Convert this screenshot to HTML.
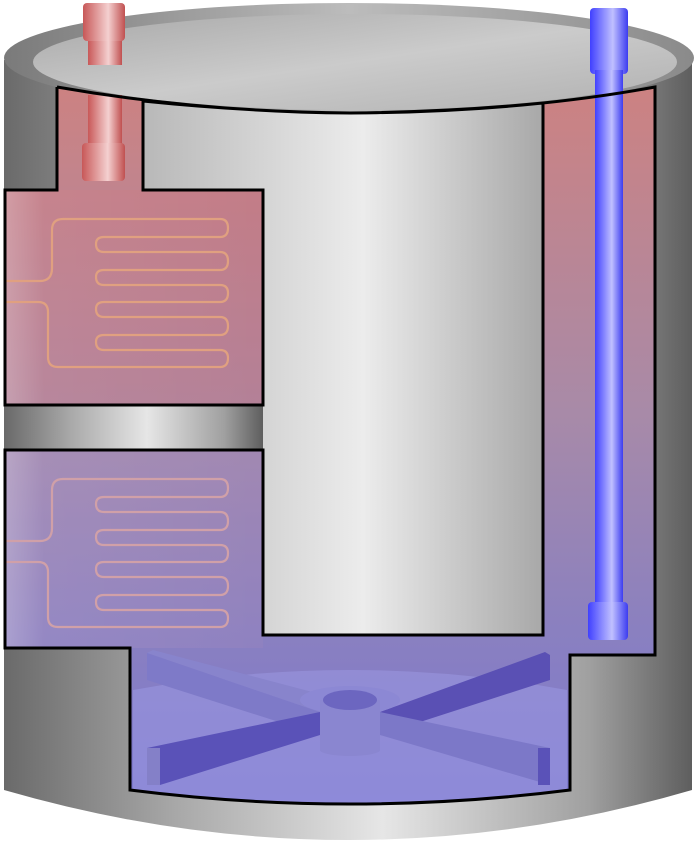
<!DOCTYPE html>
<html><head><meta charset="utf-8"><style>html,body{margin:0;padding:0;background:#fff}svg{display:block}</style></head>
<body>
<svg width="696" height="843" viewBox="0 0 696 843" xmlns="http://www.w3.org/2000/svg">
<defs>
<linearGradient id="side" x1="0" x2="1" y1="0" y2="0">
<stop offset="0" stop-color="#6a6a6a"/><stop offset="0.25" stop-color="#a8a8a8"/><stop offset="0.55" stop-color="#e6e6e6"/><stop offset="0.85" stop-color="#a0a0a0"/><stop offset="1" stop-color="#5e5e5e"/></linearGradient>
<linearGradient id="topg" x1="0" x2="1" y1="0" y2="0">
<stop offset="0" stop-color="#7a7a7a"/><stop offset="0.5" stop-color="#bcbcbc"/><stop offset="1" stop-color="#8a8a8a"/></linearGradient>
<linearGradient id="topin" x1="0" x2="1" y1="0" y2="1">
<stop offset="0" stop-color="#a8a8a8"/><stop offset="0.5" stop-color="#cbcbcb"/><stop offset="1" stop-color="#b0b0b0"/></linearGradient>
<linearGradient id="col" x1="0" x2="1" y1="0" y2="0">
<stop offset="0" stop-color="#b8b8b8"/><stop offset="0.55" stop-color="#ececec"/><stop offset="1" stop-color="#a8a8a8"/></linearGradient>
<linearGradient id="fluid" gradientUnits="userSpaceOnUse" x1="0" x2="0" y1="90" y2="810">
<stop offset="0" stop-color="#cc8282"/><stop offset="0.45" stop-color="#a88aa8"/><stop offset="0.75" stop-color="#8a80c0"/><stop offset="1" stop-color="#7c78d0"/></linearGradient>
<linearGradient id="heatL" x1="0" x2="1" y1="0" y2="0">
<stop offset="0" stop-color="#ffffff" stop-opacity="0.25"/><stop offset="0.15" stop-color="#ffffff" stop-opacity="0.05"/><stop offset="1" stop-color="#ffffff" stop-opacity="0"/></linearGradient>
<linearGradient id="red" x1="0" x2="1"><stop offset="0" stop-color="#c85858"/><stop offset="0.6" stop-color="#f4d0d0"/><stop offset="1" stop-color="#c05050"/></linearGradient>
<linearGradient id="blue" x1="0" x2="1"><stop offset="0" stop-color="#4040ff"/><stop offset="0.6" stop-color="#c0c0ff"/><stop offset="1" stop-color="#3c3cf0"/></linearGradient>
</defs>
<path d="M4 60 L4 790 Q350 890 692 790 L692 60 Z" fill="url(#side)"/>
<ellipse cx="349" cy="58" rx="345" ry="55" fill="url(#topg)"/>
<ellipse cx="355" cy="62" rx="322" ry="48" fill="url(#topin)"/>
<g>
<rect x="88" y="35" width="34" height="30" fill="url(#red)"/>
<rect x="83" y="3" width="42" height="38" rx="4" fill="url(#red)"/>
</g>
<path d="M57 87 Q200 112 350 113 Q520 112 655 87 L655 655 L570 655 L570 790 Q350 818 130 790 L130 648 L5 648 L5 190 L57 190 Z" fill="url(#fluid)"/>
<path d="M133 690 Q350 650 567 690 L567 790 Q350 815 133 790 Z" fill="#9a96e0" opacity="0.6"/>
<g>
<polygon points="147,653 153,650 335,698 320,712" fill="#8884cc"/>
<polygon points="147,653 320,712 320,735 147,680" fill="#7e7ac8"/>
<polygon points="545,652 550,655 550,680 380,735 380,712" fill="#5a50b4"/>
<polygon points="147,748 320,712 320,735 160,785 147,785" fill="#5a52b8"/>
<rect x="147" y="748" width="13" height="37" fill="#8480c8"/>
<polygon points="380,712 550,748 550,785 380,735" fill="#7c78c8"/>
<rect x="538" y="748" width="12" height="37" fill="#5a52b8"/>
<ellipse cx="350" cy="700" rx="50" ry="14" fill="#8c88d4"/>
<rect x="320" y="700" width="60" height="50" fill="#8a86d0"/>
<ellipse cx="350" cy="750" rx="30" ry="6" fill="#8a86d0"/>
<ellipse cx="350" cy="700" rx="27" ry="10" fill="#6c66c0"/>
</g>
<rect x="5" y="405" width="258" height="45" fill="url(#side)"/>
<path d="M143 101 Q250 112 350 113 Q450 112 543 103 L543 635 L263 635 L263 190 L143 190 Z" fill="url(#col)"/>
<rect x="5" y="190" width="258" height="215" fill="#c8707a" opacity="0.35"/>
<rect x="5" y="450" width="258" height="198" fill="#a088c0" opacity="0.3"/>
<rect x="5" y="190" width="258" height="215" fill="url(#heatL)"/>
<rect x="5" y="450" width="258" height="198" fill="url(#heatL)"/>
<g fill="none" stroke-width="2.2" stroke-linecap="round" stroke-linejoin="round">
<path stroke="#e0a080" d="M5 281 L40 281 Q52 281 52 268 L52 230 Q52 219 63 219 L220 219 Q228 219 228 228 Q228 237 220 237 L104 237 Q96 237 96 244 Q96 252 104 252 L220 252 Q228 252 228 261 Q228 270 220 270 L104 270 Q96 270 96 277 Q96 285 104 285 L220 285 Q228 285 228 293 Q228 302 220 302 L104 302 Q96 302 96 309 Q96 317 104 317 L220 317 Q228 317 228 326 Q228 335 220 335 L104 335 Q96 335 96 342 Q96 350 104 350 L220 350 Q228 350 228 358 Q228 367 220 367 L58 367 Q48 367 48 357 L48 312 Q48 302 38 302 L5 302"/>
<path stroke="#d0a0a8" d="M5 541 L40 541 Q52 541 52 528 L52 490 Q52 479 63 479 L220 479 Q228 479 228 488 Q228 497 220 497 L104 497 Q96 497 96 504 Q96 512 104 512 L220 512 Q228 512 228 521 Q228 530 220 530 L104 530 Q96 530 96 537 Q96 545 104 545 L220 545 Q228 545 228 553 Q228 562 220 562 L104 562 Q96 562 96 569 Q96 577 104 577 L220 577 Q228 577 228 586 Q228 595 220 595 L104 595 Q96 595 96 602 Q96 610 104 610 L220 610 Q228 610 228 618 Q228 627 220 627 L58 627 Q48 627 48 617 L48 572 Q48 562 38 562 L5 562"/>
</g>
<g>
<rect x="88" y="95" width="34" height="55" fill="url(#red)"/>
<rect x="82" y="143" width="43" height="38" rx="4" fill="url(#red)"/>
</g>
<g>
<rect x="590" y="8" width="38" height="66" rx="4" fill="url(#blue)"/>
<rect x="595" y="70" width="28" height="540" fill="url(#blue)"/>
<rect x="588" y="602" width="40" height="38" rx="4" fill="url(#blue)"/>
</g>
<g fill="none" stroke="#000" stroke-width="3" stroke-linejoin="miter">
<path d="M57 87 L57 190 L5 190 L5 405 L263 405 L263 190 L143 190 L143 101 Q250 112 350 113 Q450 112 543 103 L543 635 L263 635 L263 450 L5 450 L5 648 L130 648 L130 790 Q350 818 570 790 L570 655 L655 655 L655 87 Q520 112 350 113 Q200 112 57 87"/>
</g>
</svg>
</body></html>
